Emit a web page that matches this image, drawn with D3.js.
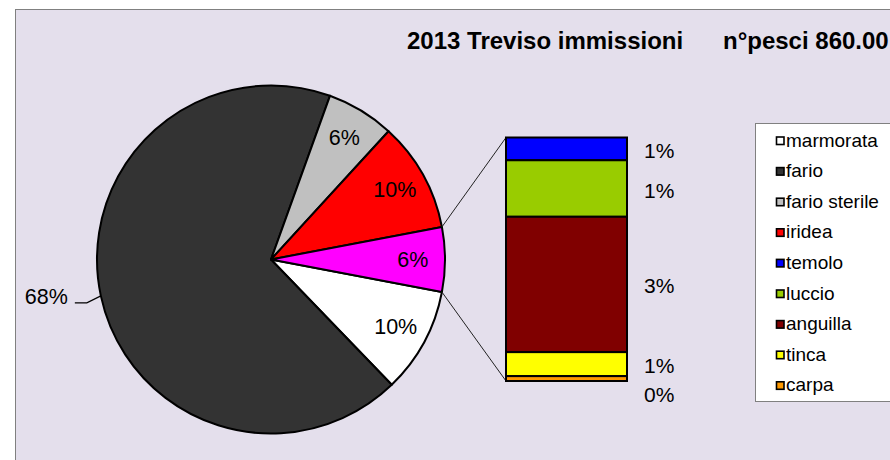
<!DOCTYPE html>
<html><head><meta charset="utf-8">
<script src="https://cdn.jsdelivr.net/npm/d3@7"></script>
<style>
body{margin:0;background:#fff}
svg{display:block;font-family:"Liberation Sans",Arial,sans-serif}
</style>
</head><body>
<svg id="c" width="890" height="460"></svg>
<script>
// ---- data ----
const titleParts = ["2013 Treviso immissioni", "n°pesci 860.00"];
const pieCategories = ["marmorata", "fario", "fario sterile", "iridea"];
const pieValues = [9.8, 67.7, 6.3, 10.2];
const otherName = "altri";
const barCategories = ["temolo", "luccio", "anguilla", "tinca", "carpa"];
const barValues = [0.56, 1.39, 3.33, 0.59, 0.12];
const legendCategories = pieCategories.concat(barCategories);
const colorList = ["#FFFFFF", "#333333", "#C0C0C0", "#FF0000", "#0000FF", "#99CC00", "#800000", "#FFFF00", "#FF9900"];
const otherColor = "#FF00FF";

// ---- setup ----
const svg = d3.select("#c");
const color = d3.scaleOrdinal().domain(legendCategories.concat([otherName])).range(colorList.concat([otherColor]));
const pct = d3.format(".0%");

// chart area
svg.append("rect").attr("x", 15.5).attr("y", 9.5).attr("width", 900).attr("height", 470)
  .attr("fill", "#E4DFEC").attr("stroke", "#808080").attr("stroke-width", 1);

// title
const title = svg.append("text").attr("y", 49).attr("font-size", 24).attr("font-weight", "bold").attr("fill", "#000");
title.append("tspan").attr("x", 407).text(titleParts[0]);
title.append("tspan").attr("x", 723).text(titleParts[1]);

// ---- pie ----
const cx = 271, cy = 259.5, R = 174;
const otherTotal = d3.sum(barValues);
const pieData = pieValues.map((v, i) => ({name: pieCategories[i], value: v}))
  .concat([{name: otherName, value: otherTotal}]);
const total = d3.sum(pieData, d => d.value);
const oAng = 2 * Math.PI * otherTotal / total;
const start = Math.PI / 2 + oAng / 2;
const pie = d3.pie().sort(null).value(d => d.value).startAngle(start).endAngle(start + 2 * Math.PI);
const arcs = pie(pieData);
const arc = d3.arc().innerRadius(0).outerRadius(R);
const labelArc = d3.arc().innerRadius(R * 0.815).outerRadius(R * 0.815);

const gp = svg.append("g").attr("transform", `translate(${cx},${cy})`);
gp.selectAll("path").data(arcs).join("path")
  .attr("d", arc).attr("fill", d => color(d.data.name))
  .attr("stroke", "#000").attr("stroke-width", 2).attr("stroke-linejoin", "round");

const largest = d3.maxIndex(arcs, d => d.value);
arcs.forEach((d, i) => {
  const txt = pct(d.value / total);
  if (i === largest) {
    const mid = (d.startAngle + d.endAngle) / 2;
    const p0 = [Math.sin(mid) * R, -Math.cos(mid) * R];
    const p1 = [p0[0] - 14, p0[1] + 7];
    const p2 = [p1[0] - 12, p1[1]];
    gp.append("polyline").attr("points", [p0, p1, p2].map(p => p.join(",")).join(" "))
      .attr("fill", "none").attr("stroke", "#000").attr("stroke-width", 1.2);
    gp.append("text").attr("x", p2[0] - 7).attr("y", p2[1] + 1).attr("text-anchor", "end")
      .attr("font-size", 21.5).attr("fill", "#000").text(txt);
  } else {
    const c = labelArc.centroid(d);
    gp.append("text").attr("x", c[0]).attr("y", c[1]).attr("text-anchor", "middle")
      .attr("dominant-baseline", "central").attr("font-size", 21.5).attr("fill", "#000").text(txt);
  }
});

// ---- bar of pie ----
const bx = 506, bw = 121;
const y = d3.scaleLinear().domain([0, otherTotal]).range([381, 137.5]);
let cum = 0;
const segs = [];
for (let i = barValues.length - 1; i >= 0; i--) {
  segs[i] = {name: barCategories[i], value: barValues[i], y0: cum, y1: cum + barValues[i]};
  cum += barValues[i];
}
// connector lines
const otherArc = arcs[arcs.length - 1];
const ptA = [cx + Math.sin(otherArc.startAngle) * R, cy - Math.cos(otherArc.startAngle) * R];
const ptB = [cx + Math.sin(otherArc.endAngle) * R, cy - Math.cos(otherArc.endAngle) * R];
svg.append("line").attr("x1", ptA[0]).attr("y1", ptA[1]).attr("x2", bx).attr("y2", y(otherTotal))
  .attr("stroke", "#222").attr("stroke-width", 1);
svg.append("line").attr("x1", ptB[0]).attr("y1", ptB[1]).attr("x2", bx).attr("y2", y(0))
  .attr("stroke", "#222").attr("stroke-width", 1);

const gb = svg.append("g");
gb.selectAll("rect").data(segs).join("rect")
  .attr("x", bx).attr("width", bw)
  .attr("y", d => y(d.y1)).attr("height", d => y(d.y0) - y(d.y1))
  .attr("fill", d => color(d.name)).attr("stroke", "#000").attr("stroke-width", 2);

// bar labels with simple collision avoidance (top to bottom)
let prev = -Infinity;
segs.forEach(d => {
  let ly = (y(d.y0) + y(d.y1)) / 2 + 1.5;
  if (ly < prev + 28.5) ly = prev + 28.5;
  prev = ly;
  gb.append("text").attr("x", 644).attr("y", ly).attr("dominant-baseline", "central")
    .attr("font-size", 21).attr("fill", "#000").text(pct(d.value / total));
});

// ---- legend ----
const lg = svg.append("g");
lg.append("rect").attr("x", 755.5).attr("y", 123.5).attr("width", 200).attr("height", 278)
  .attr("fill", "#fff").attr("stroke", "#808080").attr("stroke-width", 1);
const row = d3.scalePoint().domain(legendCategories).range([141, 141 + 30.6 * (legendCategories.length - 1)]);
legendCategories.forEach(name => {
  const ry = row(name);
  lg.append("rect").attr("x", 776.5).attr("y", ry - 4).attr("width", 7.5).attr("height", 7.5)
    .attr("fill", color(name)).attr("stroke", "#000").attr("stroke-width", 1.6);
  lg.append("text").attr("x", 786).attr("y", ry + 5.5).attr("font-size", 19).attr("fill", "#000").text(name);
});
</script>
</body></html>
